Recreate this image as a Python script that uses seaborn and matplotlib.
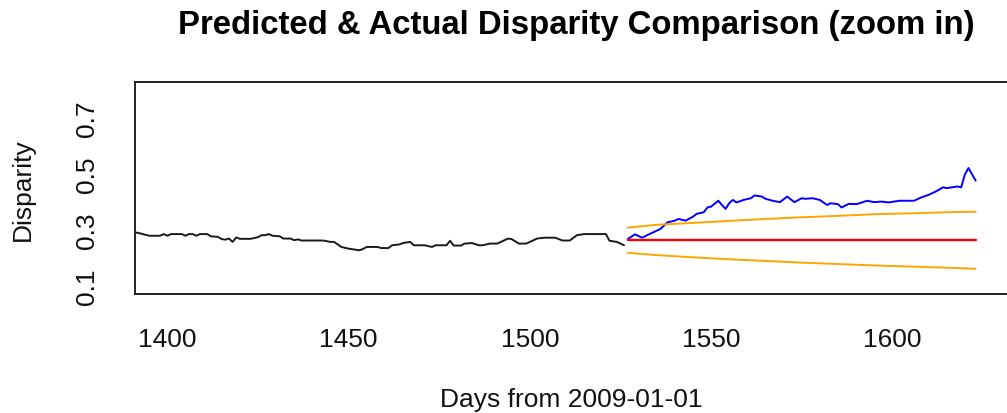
import numpy as np
import pandas as pd
import matplotlib
matplotlib.use("Agg")
import matplotlib.pyplot as plt
import seaborn as sns

# Observed disparity before the forecast origin
hist_days = [1391, 1392, 1395, 1398, 1399, 1400, 1401, 1404, 1405, 1406, 1407, 1408,
             1409, 1411, 1412, 1414, 1415, 1416, 1417, 1418, 1419, 1420, 1423, 1425,
             1426, 1427, 1428, 1429, 1431, 1432, 1434, 1435, 1436, 1437, 1443, 1445,
             1446, 1448, 1450, 1453, 1454, 1455, 1458, 1459, 1461, 1462, 1464, 1465,
             1467, 1468, 1471, 1473, 1474, 1477, 1478, 1479, 1481, 1482, 1484, 1486,
             1487, 1489, 1491, 1492, 1494, 1495, 1497, 1499, 1500, 1502, 1504, 1507,
             1509, 1511, 1513, 1515, 1521, 1522, 1524, 1526]
hist_vals = [0.292, 0.290, 0.280, 0.280, 0.286, 0.280, 0.286, 0.286, 0.280, 0.286, 0.286, 0.280,
             0.286, 0.286, 0.278, 0.276, 0.268, 0.266, 0.270, 0.258, 0.274, 0.269, 0.269, 0.275,
             0.282, 0.282, 0.286, 0.280, 0.278, 0.270, 0.270, 0.264, 0.267, 0.263, 0.263, 0.258,
             0.258, 0.240, 0.234, 0.228, 0.233, 0.240, 0.240, 0.236, 0.236, 0.246, 0.249, 0.254,
             0.258, 0.246, 0.246, 0.240, 0.246, 0.246, 0.262, 0.245, 0.245, 0.252, 0.254, 0.246,
             0.246, 0.252, 0.252, 0.258, 0.270, 0.268, 0.252, 0.252, 0.258, 0.270, 0.273, 0.273,
             0.263, 0.263, 0.282, 0.286, 0.286, 0.262, 0.258, 0.246]

# Actual disparity over the forecast horizon
actual_days = [1527, 1529, 1531, 1533, 1534, 1536, 1538, 1540, 1541, 1543, 1545, 1546,
               1548, 1549, 1550, 1552, 1553, 1554, 1555, 1556, 1557, 1559, 1561, 1562,
               1564, 1565, 1567, 1569, 1571, 1573, 1575, 1576, 1578, 1580, 1582, 1583,
               1585, 1586, 1588, 1590, 1591, 1593, 1595, 1597, 1599, 1602, 1604, 1606,
               1608, 1610, 1612, 1614, 1615, 1618, 1619, 1620, 1621, 1623]
actual_vals = [0.268, 0.285, 0.273, 0.286, 0.292, 0.304, 0.328, 0.334, 0.340, 0.334, 0.348, 0.358,
               0.364, 0.381, 0.384, 0.405, 0.390, 0.376, 0.396, 0.408, 0.399, 0.408, 0.414, 0.424,
               0.420, 0.412, 0.405, 0.400, 0.420, 0.400, 0.414, 0.412, 0.414, 0.408, 0.390, 0.396,
               0.393, 0.381, 0.394, 0.393, 0.396, 0.405, 0.400, 0.402, 0.399, 0.405, 0.405, 0.405,
               0.417, 0.426, 0.438, 0.453, 0.450, 0.456, 0.453, 0.498, 0.522, 0.477]

# Point forecast and prediction interval
fc_days = [1527, 1535, 1545, 1555, 1565, 1575, 1585, 1595, 1605, 1615, 1623]
fc_mean = [0.264, 0.264, 0.264, 0.264, 0.264, 0.264, 0.264, 0.264, 0.264, 0.264, 0.264]
fc_upper = [0.309, 0.319, 0.326, 0.333, 0.340, 0.346, 0.351, 0.357, 0.360, 0.364, 0.366]
fc_lower = [0.219, 0.211, 0.203, 0.196, 0.190, 0.184, 0.179, 0.174, 0.170, 0.166, 0.162]

y_ticks = [0.1, 0.2, 0.3, 0.4, 0.5, 0.6, 0.7, 0.8]
y_labels = ["0.1", "", "0.3", "", "0.5", "", "0.7", ""]
x_ticks = [1400, 1450, 1500, 1550, 1600]

sns.set_style("white")
plt.rcParams["font.family"] = ["Liberation Sans", "DejaVu Sans"]

W, H = 1007, 414
fig = plt.figure(figsize=(W / 100, H / 100), dpi=100)
# plot region in pixels: left 135, right 1008, top 83, bottom 295
ax = fig.add_axes([135 / W, (H - 295) / H, (1008 - 135) / W, (295 - 83.3) / H])

hist = pd.DataFrame({"day": hist_days, "value": hist_vals})
actual = pd.DataFrame({"day": actual_days, "value": actual_vals})
fc = pd.DataFrame({"day": fc_days, "mean": fc_mean, "upper": fc_upper, "lower": fc_lower})

lw = 1.4
sns.lineplot(data=hist, x="day", y="value", ax=ax, color="#1a1a1a", lw=lw,
             estimator=None, sort=False)
sns.lineplot(data=actual, x="day", y="value", ax=ax, color="#0000ff", lw=lw,
             estimator=None, sort=False)
sns.lineplot(data=fc, x="day", y="mean", ax=ax, color="#ff0000", lw=lw + 0.3,
             estimator=None, sort=False)
sns.lineplot(data=fc, x="day", y="upper", ax=ax, color="#ffa500", lw=lw,
             estimator=None, sort=False)
sns.lineplot(data=fc, x="day", y="lower", ax=ax, color="#ffa500", lw=lw,
             estimator=None, sort=False)

# R-style 4% padding around the limits
x0, x1 = 1400, 1623
pad = 0.04 * (x1 - x0)
ax.set_xlim(x0 - pad, x1 + pad)
y0, y1 = 0.1, 0.8
pad = 0.04 * (y1 - y0)
ax.set_ylim(y0 - pad, y1 + pad)

ax.set_xticks(x_ticks)
ax.set_xticklabels([str(t) for t in x_ticks])
ax.set_yticks(y_ticks)
ax.set_yticklabels(y_labels, rotation=90, va="center")

for s in ax.spines.values():
    s.set_visible(True)
    s.set_color("#222222")
    s.set_linewidth(1.4)

fs = 19
ax.tick_params(axis="both", which="major", direction="out", length=10,
               width=1.2, color="#222222", labelsize=fs, labelcolor="#111111")
ax.tick_params(axis="x", pad=14)
ax.tick_params(axis="y", pad=16)

ax.set_xlabel("Days from 2009-01-01", fontsize=fs, color="#111111", labelpad=26)
ax.set_ylabel("Disparity", fontsize=fs, color="#111111", labelpad=29)

fig.text(576 / W, (H - 34.3) / H, "Predicted & Actual Disparity Comparison (zoom in)",
         ha="center", va="baseline", fontsize=23.7, fontweight="bold", color="black")

fig.savefig("out.png", dpi=100, facecolor="white")
